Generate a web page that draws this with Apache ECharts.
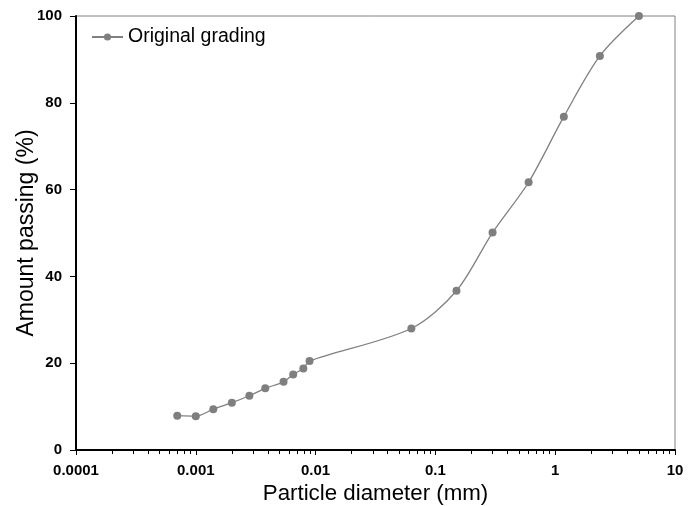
<!DOCTYPE html>
<html><head><meta charset="utf-8">
<script src="https://cdn.jsdelivr.net/npm/echarts@6/dist/echarts.min.js"></script>
<style>html,body{margin:0;padding:0;background:#fff}#c{width:697px;height:506px}</style>
</head><body><div id="c"></div>
<script>
const seriesName = 'Original grading';
const diameters = [0.0007, 0.001, 0.0014, 0.002, 0.0028, 0.0038, 0.0054, 0.0065, 0.0079, 0.0089, 0.063, 0.15, 0.3, 0.6, 1.18, 2.36, 5];
const passing = [7.9, 7.8, 9.4, 10.9, 12.5, 14.2, 15.7, 17.4, 18.8, 20.5, 28.0, 36.7, 50.1, 61.7, 76.8, 90.8, 100];
const xTitle = 'Particle diameter (mm)';
const yTitle = 'Amount passing (%)';
const yTicks = [0, 20, 40, 60, 80, 100];

const chart = echarts.init(document.getElementById('c'), null, {renderer: 'canvas'});
const font = 'Liberation Sans, Arial, sans-serif';
chart.setOption({
  animation: false,
  grid: {left: 76, right: 22, top: 16, bottom: 56, containLabel: false, outerBoundsMode: 'none',
    show: true, borderColor: '#808080', borderWidth: 1},
  legend: {
    left: 91, top: 27, padding: 0, itemWidth: 31, itemHeight: 9, itemGap: 0,
    textStyle: {fontFamily: font, fontSize: 19.5, color: '#000'},
    data: [seriesName]
  },
  xAxis: {
    type: 'log', logBase: 10, min: 0.0001, max: 10,
    name: xTitle, nameLocation: 'middle', nameGap: 33, nameMoveOverlap: false,
    nameTextStyle: {fontFamily: font, fontSize: 22.3, color: '#000'},
    axisLine: {show: true, lineStyle: {color: '#000', width: 2}},
    axisTick: {show: true, inside: false, length: 5, lineStyle: {color: '#000', width: 1}},
    minorTick: {show: true, splitNumber: 9, length: 4, lineStyle: {color: '#000', width: 1}},
    axisLabel: {fontFamily: font, fontSize: 15, fontWeight: 'bold', color: '#000', margin: 13,
      formatter: v => String(+v.toPrecision(6))},
    splitLine: {show: false}
  },
  yAxis: {
    type: 'value', min: yTicks[0], max: yTicks[yTicks.length-1], interval: 20,
    name: yTitle, nameLocation: 'middle', nameGap: 38, nameMoveOverlap: false,
    nameTextStyle: {fontFamily: font, fontSize: 23, color: '#000'},
    axisLine: {show: true, lineStyle: {color: '#000', width: 2}},
    axisTick: {show: true, inside: false, length: 6, lineStyle: {color: '#000', width: 1}},
    axisLabel: {fontFamily: font, fontSize: 15, fontWeight: 'bold', color: '#000', margin: 14},
    splitLine: {show: false}
  },
  series: [{
    name: seriesName, type: 'line',
    data: diameters.map((d, i) => [d, passing[i]]),
    smooth: 0.3,
    symbol: 'circle', symbolSize: 8,
    lineStyle: {color: '#808080', width: 1.3},
    itemStyle: {color: '#7f7f7f'}
  }]
});
</script></body></html>
